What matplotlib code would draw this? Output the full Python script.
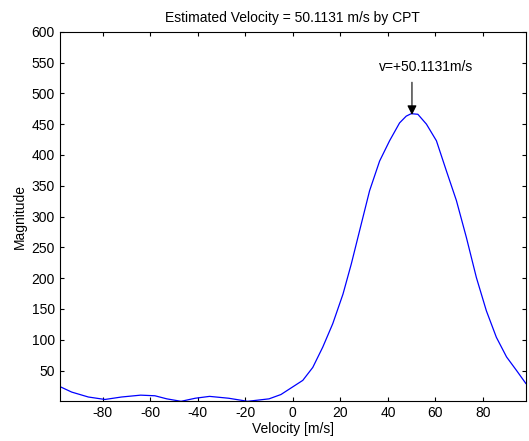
import matplotlib
matplotlib.use("Agg")
import matplotlib.pyplot as plt

plt.rcParams['font.family'] = ['Liberation Sans', 'DejaVu Sans']
plt.rcParams['axes.unicode_minus'] = False

# velocity axis [m/s] and magnitude
velocity = [-98, -93, -86, -79, -72, -64, -58, -53, -47, -41, -35, -27, -19,
            -10, -5, -1.4, 4.2, 8.4, 12.6, 16.8, 21.1, 24.6, 28.8, 32.3, 36.5,
            40.7, 44.9, 47.7, 49.8, 52.6, 56.2, 60.4, 64.6, 68.8, 73, 77.2,
            81.4, 85.6, 89.9, 94.1, 98]
magnitude = [24, 15, 7, 3, 7, 10, 9, 4, 0, 5, 8, 5, 0,
             4, 11, 20, 34, 55, 88, 126, 174, 223, 288, 342, 390,
             423, 452, 463, 467, 466, 450, 423, 374, 326, 266, 201,
             147, 104, 72, 50, 29]

v_est = 50.1131
peak_mag = 465
x_ticks = [-80, -60, -40, -20, 0, 20, 40, 60, 80]
y_ticks = [50, 100, 150, 200, 250, 300, 350, 400, 450, 500, 550, 600]

fig = plt.figure(figsize=(5.29, 4.41), dpi=100)
ax = fig.add_axes([0.113, 0.09, 0.881, 0.838])

ax.plot(velocity, magnitude, color='#0000ff', lw=0.9)

# label above the peak, with a vertical arrow down to it
ax.text(v_est + 6, 532, 'v=+%.4fm/s' % v_est, ha='center', va='bottom', fontsize=10)
ax.annotate('', xy=(v_est, peak_mag), xytext=(v_est, 518),
            arrowprops=dict(arrowstyle='-|>', color='black', lw=0.8,
                            mutation_scale=14, shrinkA=0, shrinkB=0))

ax.set_xlim(-98, 98)
ax.set_ylim(0, 600)
ax.set_xticks(x_ticks)
ax.set_yticks(y_ticks)
ax.tick_params(direction='in', top=True, right=True, labelsize=10, length=3, width=0.8)
for s in ax.spines.values():
    s.set_linewidth(0.8)

ax.set_title('Estimated Velocity = %.4f m/s by CPT' % v_est, fontsize=10, pad=7)
ax.set_xlabel('Velocity [m/s]', fontsize=10, labelpad=1)
ax.set_ylabel('Magnitude', fontsize=10, labelpad=3)

fig.savefig('out.png', dpi=100)
